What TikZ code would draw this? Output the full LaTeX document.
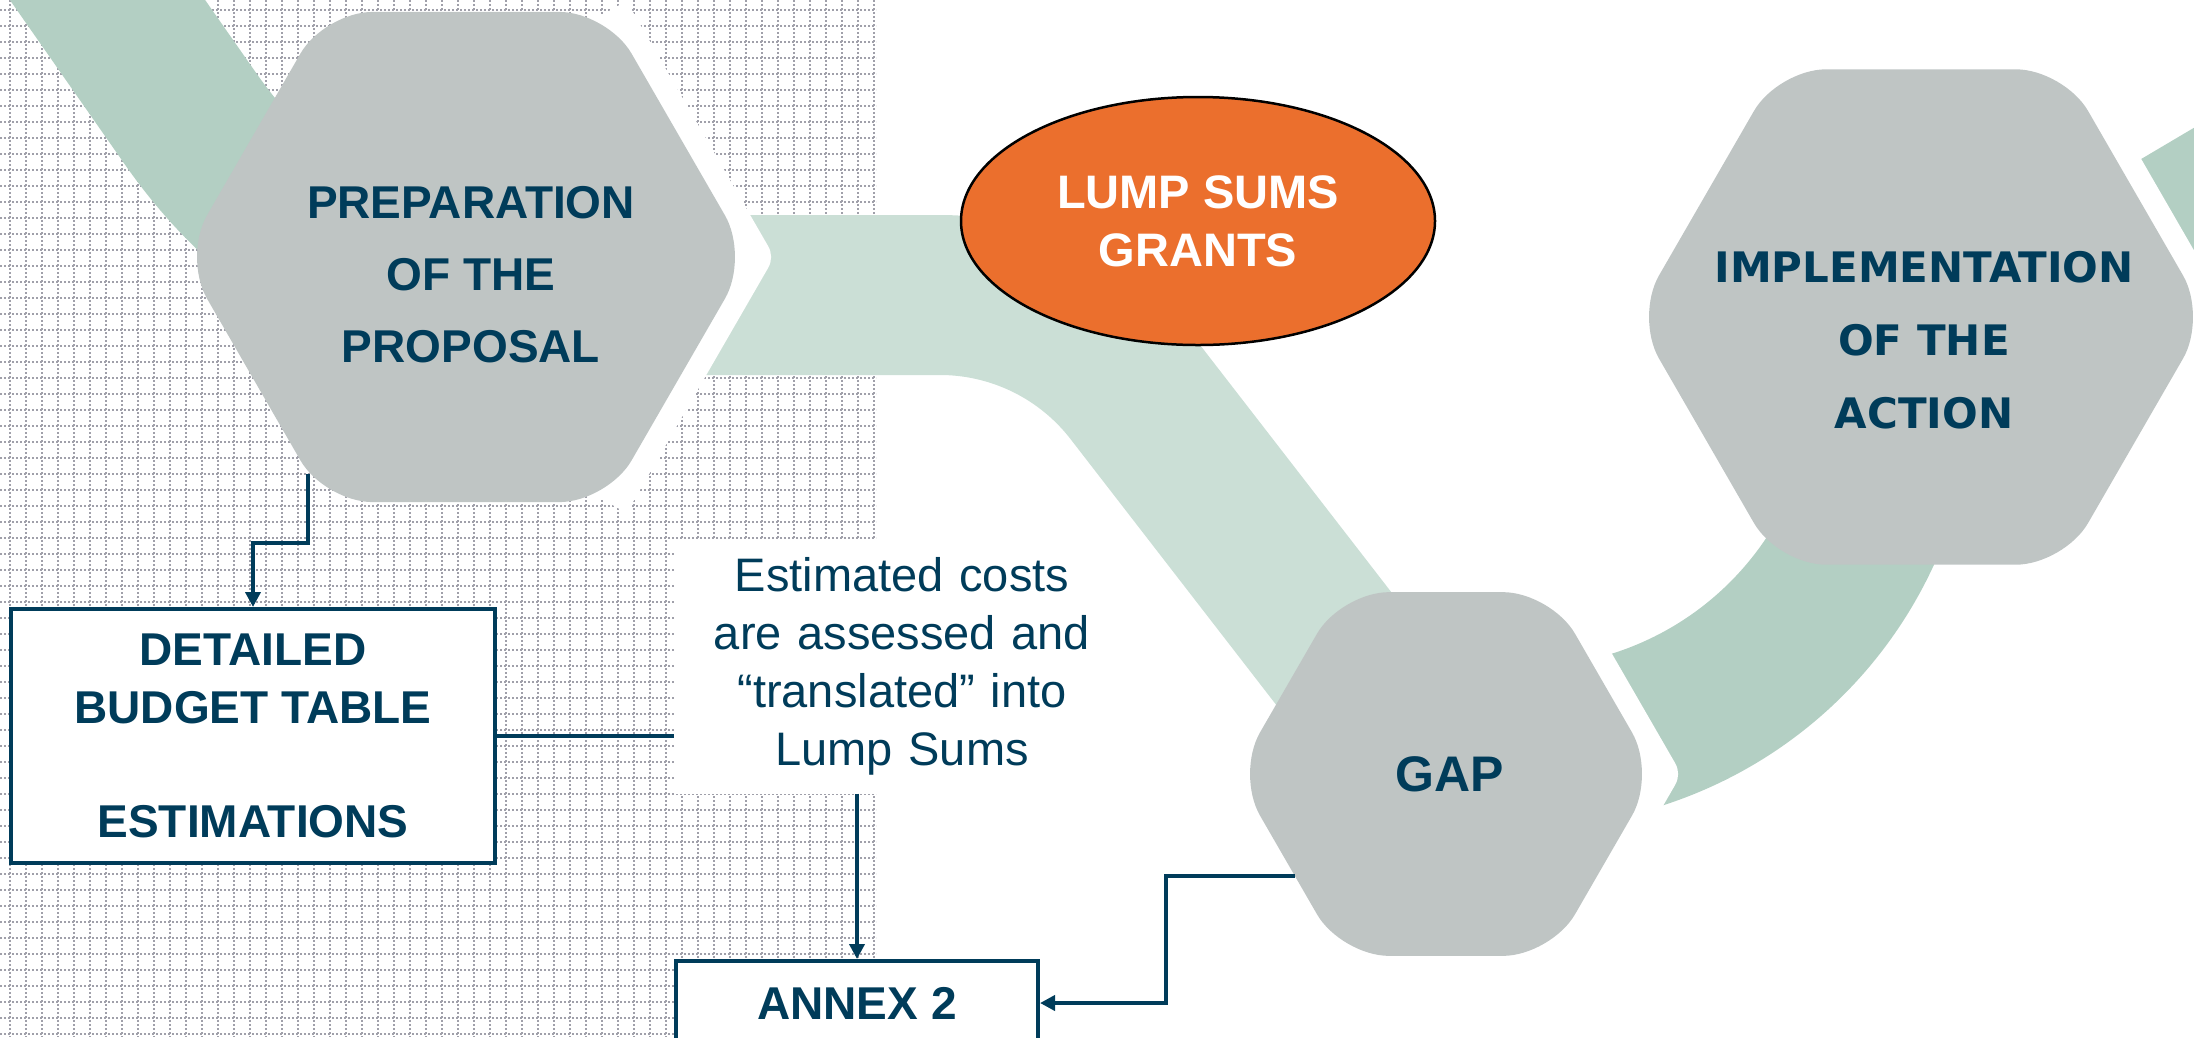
\documentclass[tikz,border=0pt]{standalone}
\usepackage{fontspec}
\setmainfont{Liberation Sans}
\newfontfamily\heavyfont{DejaVu Sans}
\usepackage{xcolor}
\usetikzlibrary{arrows.meta,shapes.geometric}
\definecolor{navy}{HTML}{003C5A}
\definecolor{hexgray}{HTML}{BFC5C4}
\definecolor{banddark}{HTML}{B3CFC3}
\definecolor{bandlight}{HTML}{CBDFD6}
\definecolor{lumporange}{HTML}{EB6F2D}
\definecolor{dotgray}{HTML}{A0A0AA}
\pgfdeclarelayer{gridlayer}
\pgfdeclarelayer{bandlayer}
\pgfdeclarelayer{gaplayer}
\pgfsetlayers{gridlayer,bandlayer,gaplayer,main}

\begin{document}
\begin{tikzpicture}[
  x=1pt, y=-1pt,
  gridline/.style={dotgray, line width=1.6pt, dash pattern=on 2pt off 2pt},
  ribbon/.style={line width=160pt},
  hexgap/.style={draw=white, line width=44pt, line join=round},
  hexa/.style={regular polygon, regular polygon sides=6, minimum size=#1, inner sep=0pt, outer sep=0pt, fill=hexgray, rounded corners=48pt},
  hexlabel/.style={text=navy, align=center, font=\fontsize{46}{72}\selectfont\bfseries},
  lumpsum/.style={ellipse, draw=black, line width=2.5pt, fill=lumporange, text=white, align=center, inner sep=0pt, minimum width=474pt, minimum height=248pt, font=\fontsize{47}{58}\selectfont\bfseries},
  box/.style={draw=navy, line width=4pt, fill=white, text=navy, align=center, inner sep=0pt, font=\fontsize{46}{57.5}\selectfont\bfseries},
  costnote/.style={fill=white, text=navy, align=center, text width=440pt, inner sep=8pt, minimum height=255pt, font=\fontsize{47}{58}\selectfont},
  conn/.style={draw=navy, line width=4pt},
  arr/.style={conn, -{Triangle[length=15pt, width=15pt]}}
]
\useasboundingbox (0,0) rectangle (2194,1037);
\clip (0,0) rectangle (2194,1037);

\begin{pgfonlayer}{gridlayer}
\foreach \gx in {10,26,...,874}
  \draw[gridline] (\gx,0) -- (\gx,1037);
\foreach \gy in {10,26,...,1034}
  \draw[gridline] (0,\gy) -- (876,\gy);
\end{pgfonlayer}

\begin{pgfonlayer}{bandlayer}
\draw[ribbon, banddark] (60,-68) -- (190,118) .. controls (260,218) and (360,295) .. (520,295);
\draw[ribbon, bandlight] (520,295) -- (940,295) arc[start angle=-90, end angle=-38, radius=245] -- (1420,760);
\draw[ribbon, banddark] (1525,377) ++(101:370) arc[start angle=101, end angle=-9, radius=370];
\draw[ribbon, banddark] (1950,365) -- (2300,158);
\end{pgfonlayer}

\node[hexa=566pt, label={[hexlabel, xshift=5pt, yshift=-18pt]center:PREPARATION\\OF THE\\PROPOSAL}] (prep) at (466,257) {};
\node[hexa=420pt, label={[hexlabel, xshift=4pt, font=\fontsize{50}{60}\selectfont\bfseries]center:GAP}] (gap) at (1446,774) {};
\node[hexa=572pt, label={[hexlabel, xshift=3pt, yshift=-23pt, font=\heavyfont\bfseries\fontsize{42}{73}\selectfont]center:IMPLEMENTATION\\OF THE\\ACTION}] (impl) at (1921,317) {};

\begin{pgfonlayer}{gaplayer}
\draw[hexgap] (prep.60) -- (prep.0) -- (prep.300);
\draw[hexgap] (gap.60) -- (gap.0) -- (gap.300);
\draw[hexgap] (impl.60) -- (impl.0) -- (impl.300);
\end{pgfonlayer}

\node[lumpsum] (lump) at (1198,221) {LUMP SUMS\\GRANTS};
\node[box, minimum width=484pt, minimum height=254pt] (budget) at (253,736) {DETAILED\\BUDGET TABLE\\[57pt]ESTIMATIONS};
\node[costnote] (est) at (902,666) {Estimated costs\\are assessed and\\“translated” into\\Lump Sums};
\node[box, minimum width=362pt, minimum height=84pt] (annex) at (857,1003) {ANNEX 2};

\draw[arr] (prep.234) -- ++(0,69) -| (budget.north);
\draw[conn] (budget.east) -- (budget.east -| est.west);
\draw[arr] (est.south -| annex.north) -- (annex.north);
\draw[arr] (gap.214) -- ++(-129,0) |- (annex.east);
\end{tikzpicture}
\end{document}
